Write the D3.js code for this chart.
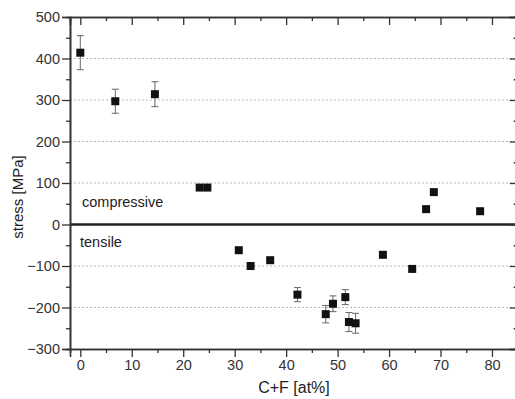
<!DOCTYPE html>
<html>
<head>
<meta charset="utf-8">
<script src="https://cdn.jsdelivr.net/npm/d3@7"></script>
<style>
  body { margin: 0; background: #fff; }
  svg { display: block; font-family: "Liberation Sans", Arial, sans-serif; }
</style>
</head>
<body>
<div id="chart"></div>
<script>
// Data
const cf     = [0, 6.8, 14.5, 23.2, 24.7, 30.8, 33.1, 36.9, 42.2, 47.7, 49.1, 51.5, 52.2, 53.5, 58.8, 64.5, 67.2, 68.7, 77.7];
const stress = [414, 297, 314, 89, 89, -62, -100, -86, -169, -216, -191, -175, -235, -238, -73, -107, 37, 78, 32];
const err    = [41, 29, 30, 0, 0, 0, 5, 0, 17, 21, 19, 18, 23, 24, 0, 6, 0, 0, 0];

const xTicks = [0, 10, 20, 30, 40, 50, 60, 70, 80];
const yTicks = [-300, -200, -100, 0, 100, 200, 300, 400, 500];
const gridY  = [-200, -100, 100, 200, 300, 400];

const width = 515;
const height = 399;

const x = d3.scaleLinear().domain([-2, 85]).range([70, 517.7]);
const y = d3.scaleLinear().domain([-300, 500]).range([349, 17]);

const points = cf.map((v, i) => ({ x: v, y: stress[i], e: err[i] }));

const svg = d3.select("#chart")
    .append("svg")
    .attr("width", width)
    .attr("height", height);

// dotted grid
svg.append("g")
    .selectAll("line")
    .data(gridY)
    .enter()
    .append("line")
    .attr("x1", x(-2))
    .attr("x2", x(85))
    .attr("y1", d => y(d))
    .attr("y2", d => y(d))
    .attr("stroke", "#b8b8b8")
    .attr("stroke-width", 1)
    .attr("stroke-dasharray", "2,2");

// zero line
svg.append("line")
    .attr("x1", x(-2))
    .attr("x2", x(85))
    .attr("y1", y(0))
    .attr("y2", y(0))
    .attr("stroke", "#222")
    .attr("stroke-width", 2.5);

const minorX = d3.range(0, 86, 5).filter(d => d % 10 !== 0);
const minorY = d3.range(-250, 500, 100);

function styleAxis(g) {
    g.select(".domain").attr("stroke", "#333").attr("stroke-width", 1.6);
    g.selectAll(".tick line").attr("stroke", "#333").attr("stroke-width", 1.3);
    g.selectAll(".tick text").attr("fill", "#333").attr("font-size", "14.5px");
}

// bottom axis
svg.append("g")
    .attr("transform", `translate(0,${y(-300)})`)
    .call(d3.axisBottom(x).tickValues(xTicks).tickSize(8).tickPadding(3))
    .call(styleAxis);
svg.append("g")
    .attr("transform", `translate(0,${y(-300)})`)
    .call(d3.axisBottom(x).tickValues(minorX).tickSize(4).tickFormat(""))
    .call(styleAxis);

// top axis (ticks inward)
svg.append("g")
    .attr("transform", `translate(0,${y(500)})`)
    .call(d3.axisTop(x).tickValues(xTicks).tickSize(-8).tickFormat(""))
    .call(styleAxis);
svg.append("g")
    .attr("transform", `translate(0,${y(500)})`)
    .call(d3.axisTop(x).tickValues(minorX).tickSize(-4).tickFormat(""))
    .call(styleAxis);

// left axis
svg.append("g")
    .attr("transform", `translate(${x(-2)},0)`)
    .call(d3.axisLeft(y).tickValues(yTicks).tickSize(8).tickPadding(2))
    .call(styleAxis);
svg.append("g")
    .attr("transform", `translate(${x(-2)},0)`)
    .call(d3.axisLeft(y).tickValues(minorY).tickSize(4).tickFormat(""))
    .call(styleAxis);

// right axis (ticks inward, mostly clipped)
svg.append("g")
    .attr("transform", `translate(${x(85)},0)`)
    .call(d3.axisRight(y).tickValues(yTicks).tickSize(-8).tickFormat(""))
    .call(styleAxis);
svg.append("g")
    .attr("transform", `translate(${x(85)},0)`)
    .call(d3.axisRight(y).tickValues(minorY).tickSize(-4).tickFormat(""))
    .call(styleAxis);

// error bars
const eb = svg.append("g")
    .selectAll("g")
    .data(points.filter(d => d.e > 0))
    .enter()
    .append("g")
    .attr("stroke", "#666")
    .attr("stroke-width", 1);
eb.append("line")
    .attr("x1", d => x(d.x)).attr("x2", d => x(d.x))
    .attr("y1", d => y(d.y + d.e)).attr("y2", d => y(d.y - d.e));
eb.append("line")
    .attr("x1", d => x(d.x) - 3.5).attr("x2", d => x(d.x) + 3.5)
    .attr("y1", d => y(d.y + d.e)).attr("y2", d => y(d.y + d.e));
eb.append("line")
    .attr("x1", d => x(d.x) - 3.5).attr("x2", d => x(d.x) + 3.5)
    .attr("y1", d => y(d.y - d.e)).attr("y2", d => y(d.y - d.e));

// square markers
const s = 8;
svg.append("g")
    .selectAll("rect")
    .data(points)
    .enter()
    .append("rect")
    .attr("x", d => x(d.x) - s / 2)
    .attr("y", d => y(d.y) - s / 2)
    .attr("width", s)
    .attr("height", s)
    .attr("fill", "#111");

// labels
svg.append("text")
    .attr("x", 82)
    .attr("y", 207)
    .attr("font-size", "14.5px")
    .attr("fill", "#222")
    .text("compressive");

svg.append("text")
    .attr("x", 80)
    .attr("y", 247)
    .attr("font-size", "14.5px")
    .attr("fill", "#222")
    .text("tensile");

svg.append("text")
    .attr("x", 294)
    .attr("y", 393)
    .attr("text-anchor", "middle")
    .attr("font-size", "16px")
    .attr("fill", "#222")
    .text("C+F [at%]");

svg.append("text")
    .attr("transform", "translate(23,197) rotate(-90)")
    .attr("text-anchor", "middle")
    .attr("font-size", "15px")
    .attr("fill", "#222")
    .text("stress [MPa]");
</script>
</body>
</html>
